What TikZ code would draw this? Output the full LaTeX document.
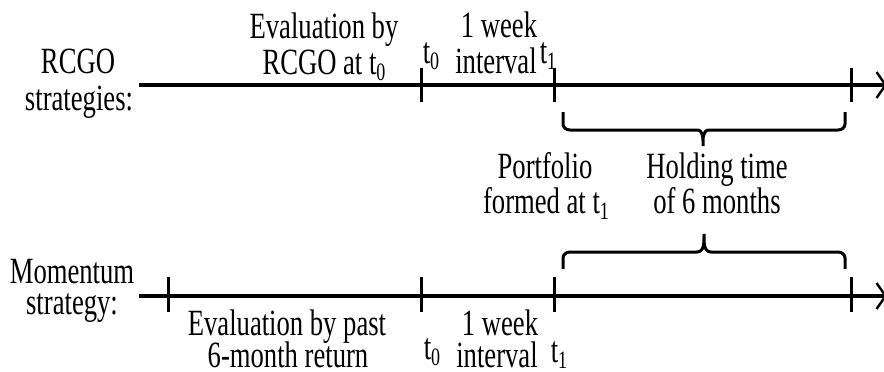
\documentclass[tikz,border=0pt]{standalone}
\usepackage{fontspec}
\setmainfont{Liberation Serif}[FakeStretch=0.72]
\usetikzlibrary{arrows.meta}
\newcommand\lowsub[1]{\raisebox{-6pt}{\fontsize{25}{25}\selectfont #1}}
\tikzset{
  lbl/.style={anchor=base, inner sep=0pt, text depth=0pt, font=\fontsize{37}{38}\selectfont},
  axis/.style={line width=3.2pt, -{Straight Barb[length=9pt,width=26pt,line width=2.4pt]}},
  tick/.style={line width=3pt},
  brace/.style={line width=3pt, line cap=butt}
}
\begin{document}
\begin{tikzpicture}[x=1pt,y=-1pt]
\useasboundingbox (0,0) rectangle (884,372);
% coordinates
\coordinate (a0) at (139,85);
\coordinate (a1) at (887,85);
\coordinate (b0) at (139,296);
\coordinate (b1) at (887,296);
% axes
\draw[axis] (a0) -- (a1);
\draw[axis] (b0) -- (b1);
% ticks top
\foreach \x/\n in {421/ta, 554/tb, 851/tc}{
  \coordinate (\n u) at (\x,68);
  \coordinate (\n d) at (\x,102);
  \draw[tick] (\n u) -- (\n d);
}
% ticks bottom
\foreach \x/\n in {168/ba, 421/bb, 554/bc, 851/bd}{
  \coordinate (\n u) at (\x,277);
  \coordinate (\n d) at (\x,312);
  \draw[tick] (\n u) -- (\n d);
}
% braces
\draw[brace] (563,112) -- (563,124) to[out=-90,in=180] (570,130) -- (697,130)
  to[out=0,in=90] (703,146) to[out=90,in=180] (709,130) -- (838,130)
  to[out=0,in=-90] (845,124) -- (845,112);
\draw[brace] (563,269) -- (563,258) to[out=90,in=180] (570,252) -- (697,252)
  to[out=0,in=-90] (704,234) to[out=-90,in=180] (711,252) -- (838,252)
  to[out=0,in=90] (845,258) -- (845,269);
% labels top
\node[lbl] (r1) at (78,73) {RCGO};
\node[lbl] (r2) at (79,110) {strategies:};
\node[lbl] (e1) at (324,38) {Evaluation by};
\node[lbl] (e2) at (324,74) {RCGO at t\lowsub{0}};
\node[lbl] (t0a) at (431,63) {t\lowsub{0}};
\node[lbl] (w1) at (499,37) {1 week};
\node[lbl] (w2) at (496,73) {interval};
\node[lbl] (t1a) at (548,63) {t\lowsub{1}};
% middle labels
\node[lbl] (p1) at (545,178) {Portfolio};
\node[lbl] (p2) at (546,213) {formed at t\lowsub{1}};
\node[lbl] (h1) at (717,178) {Holding time};
\node[lbl] (h2) at (717,213) {of 6 months};
% labels bottom
\node[lbl] (m1) at (72,283) {Momentum};
\node[lbl] (m2) at (72,314) {strategy:};
\node[lbl] (v1) at (287,335) {Evaluation by past};
\node[lbl] (v2) at (288,367) {6-month return};
\node[lbl] (t0b) at (432,359) {t\lowsub{0}};
\node[lbl] (w3) at (500,335) {1 week};
\node[lbl] (w4) at (497,367) {interval};
\node[lbl] (t1b) at (559,362) {t\lowsub{1}};
\end{tikzpicture}
\end{document}
